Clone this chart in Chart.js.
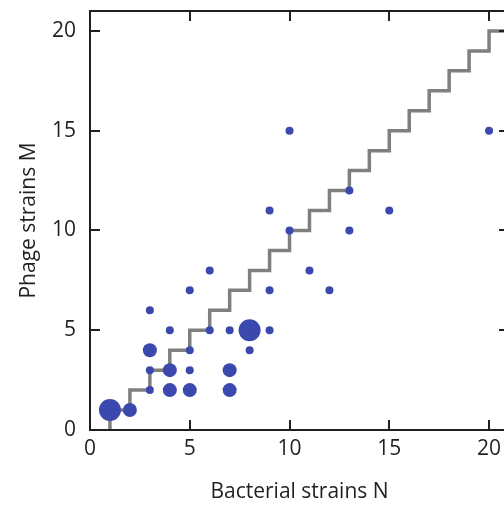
<!DOCTYPE html>
<html lang="en">
<head>
  <meta charset="UTF-8">
  <title>phage vs bacteria</title>
  <script src="https://cdn.jsdelivr.net/npm/chart.js@4.4.0/dist/chart.umd.min.js"></script>
  <style>
    body {
      margin: 0;
      background: white;
      overflow: hidden;
    }
    #wrap {
      width: 520px;
      height: 508px;
    }
  </style>
</head>
<body>
  <div id="wrap">
    <canvas id="myChart" width="520" height="508"></canvas>
  </div>
  <script>
    // observed (N, M) pairs and marker size class (1 small, 2 medium, 3 large)
    const bactN = [1, 2, 3, 4, 5, 7, 3, 4, 5, 7, 3, 5, 8, 4, 6, 7, 8, 9, 3, 5, 9, 12, 6, 11, 9, 15, 10, 13, 13, 10, 20];
    const phageM = [1, 1, 2, 2, 2, 2, 3, 3, 3, 3, 4, 4, 4, 5, 5, 5, 5, 5, 6, 7, 7, 7, 8, 8, 11, 11, 10, 10, 12, 15, 15];
    const sizeClass = [3, 2, 1, 2, 2, 2, 1, 2, 1, 2, 2, 1, 1, 1, 1, 1, 3, 1, 1, 1, 1, 1, 1, 1, 1, 1, 1, 1, 1, 1, 1];

    // staircase M = N boundary
    const stairN = [1, 2, 3, 4, 5, 6, 7, 8, 9, 10, 11, 12, 13, 14, 15, 16, 17, 18, 19, 20, 21];
    const stairM = [0, 1, 2, 3, 4, 5, 6, 7, 8, 9, 10, 11, 12, 13, 14, 15, 16, 17, 18, 19, 20];

    const xTicks = [0, 5, 10, 15, 20];
    const yTicks = [0, 5, 10, 15, 20];

    const radiusFor = { 1: 4, 2: 7, 3: 11 };
    const fontFam = "'Open Sans', 'DejaVu Sans', sans-serif";
    const ink = '#231f20';

    // box frame with inward ticks on all four sides
    const framePlugin = {
      id: 'frame',
      afterDraw(chart) {
        const ctx = chart.ctx;
        const a = chart.chartArea;
        const xs = chart.scales.x, ys = chart.scales.y;
        ctx.save();
        ctx.strokeStyle = ink;
        ctx.lineWidth = 2;
        ctx.strokeRect(a.left, a.top, a.right - a.left, a.bottom - a.top);
        ctx.beginPath();
        xTicks.forEach(v => {
          const px = Math.round(xs.getPixelForValue(v));
          ctx.moveTo(px, a.bottom); ctx.lineTo(px, a.bottom - 10);
          ctx.moveTo(px, a.top); ctx.lineTo(px, a.top + 10);
        });
        yTicks.forEach(v => {
          const py = Math.round(ys.getPixelForValue(v));
          ctx.moveTo(a.left, py); ctx.lineTo(a.left + 10, py);
          ctx.moveTo(a.right, py); ctx.lineTo(a.right - 10, py);
        });
        ctx.stroke();
        ctx.restore();
      }
    };

    const points = bactN.map((n, i) => ({ x: n, y: phageM[i] }));
    const stairs = stairN.map((n, i) => ({ x: n, y: stairM[i] }));

    new Chart(document.getElementById('myChart'), {
      type: 'scatter',
      data: {
        datasets: [{
          label: 'observed',
          data: points,
          backgroundColor: '#3b48ad',
          borderWidth: 0,
          pointRadius: sizeClass.map(s => radiusFor[s]),
          pointHoverRadius: sizeClass.map(s => radiusFor[s])
        }, {
          type: 'line',
          label: 'M = N',
          data: stairs,
          stepped: 'after',
          borderColor: '#7f7f7f',
          borderWidth: 3.5,
          pointRadius: 0,
          fill: false
        }]
      },
      options: {
        responsive: false,
        animation: false,
        layout: { padding: { top: 10, right: 10, left: 0, bottom: 0 } },
        plugins: {
          legend: { display: false },
          tooltip: { enabled: false }
        },
        scales: {
          x: {
            type: 'linear',
            min: 0,
            max: 21,
            afterBuildTicks: s => { s.ticks = xTicks.map(v => ({ value: v })); },
            afterFit: s => { s.height = 78; s.paddingLeft = 0; s.paddingRight = 0; },
            grid: { display: false, drawTicks: false },
            border: { display: false },
            ticks: { padding: 6, color: ink, font: { family: fontFam, size: 21 } },
            title: {
              display: true,
              text: 'Bacterial strains N',
              color: ink,
              padding: { top: 0, bottom: 3 },
              font: { family: fontFam, size: 21 }
            }
          },
          y: {
            type: 'linear',
            min: 0,
            max: 21,
            afterBuildTicks: s => { s.ticks = yTicks.map(v => ({ value: v })); },
            afterFit: s => { s.width = 90; s.paddingTop = 0; s.paddingBottom = 0; },
            grid: { display: false, drawTicks: false },
            border: { display: false },
            ticks: { padding: 14, color: ink, font: { family: fontFam, size: 21 } },
            title: {
              display: true,
              text: 'Phage strains M',
              color: ink,
              padding: { top: 16, bottom: 0 },
              font: { family: fontFam, size: 21 }
            }
          }
        }
      },
      plugins: [framePlugin]
    });
  </script>
</body>
</html>
